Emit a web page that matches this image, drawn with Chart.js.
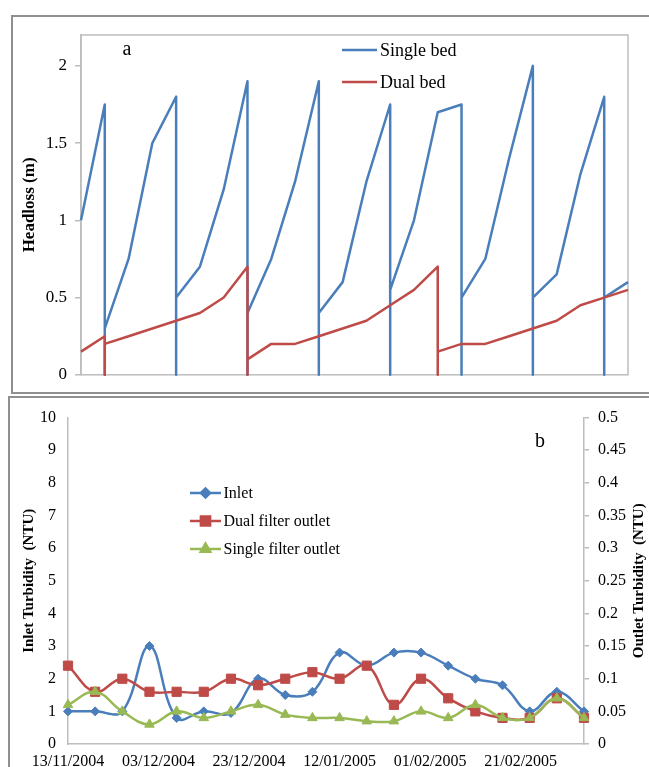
<!DOCTYPE html>
<html>
<head>
<meta charset="utf-8">
<script src="https://cdn.jsdelivr.net/npm/chart.js@4.4.1/dist/chart.umd.min.js"></script>
<style>
html,body{margin:0;padding:0;background:#fff;width:649px;height:767px;overflow:hidden;}
#wrap{position:relative;width:649px;height:767px;overflow:hidden;background:#fff;}
.box{position:absolute;border:2px solid #8f8f8f;box-sizing:border-box;}
canvas{position:absolute;left:0;}
</style>
</head>
<body>
<div id="wrap">
  <div class="box" style="left:11px;top:15px;width:700px;height:379px;"></div>
  <div class="box" style="left:8px;top:396px;width:700px;height:420px;"></div>
  <canvas id="chartA" width="649" height="393" style="top:0;width:649px;height:393px;"></canvas>
  <canvas id="chartB" width="649" height="400" style="top:396px;width:649px;height:400px;"></canvas>
</div>
<script>
// ---------- Data: chart a (headloss) ----------
const headlossSeriesNames = ['Single bed', 'Dual bed'];
const headlossPanelLabel = 'a';
const headlossAxisTitle = 'Headloss (m)';
const headlossTicks = [0, 0.5, 1, 1.5, 2];
const singleBedRun = [0,1,1,1,2,3,4,4,4,5,6,7,7,7,8,9,10,10,10,11,12,13,13,13,14,15,16,16,16,17,18,19,19,19,20,21,22,22,22,23];
const singleBedHeadloss = [1.0,1.75,0,0.3,0.75,1.5,1.8,0,0.5,0.7,1.2,1.9,0,0.4,0.75,1.25,1.9,0,0.4,0.6,1.25,1.75,0,0.55,1.0,1.7,1.75,0,0.5,0.75,1.4,2.0,0,0.5,0.65,1.3,1.8,0,0.5,0.6];
const dualBedRun = [0,1,1,1,2,3,4,5,6,7,7,7,8,9,10,11,12,13,14,15,15,15,16,17,18,19,20,21,22,23];
const dualBedHeadloss = [0.15,0.25,0,0.2,0.25,0.3,0.35,0.4,0.5,0.7,0,0.1,0.2,0.2,0.25,0.3,0.35,0.45,0.55,0.7,0,0.15,0.2,0.2,0.25,0.3,0.35,0.45,0.5,0.55];

// ---------- Data: chart b (turbidity) ----------
const turbiditySeriesNames = ['Inlet', 'Dual filter outlet', 'Single filter outlet'];
const turbidityPanelLabel = 'b';
const inletAxisTitle = 'Inlet Turbidity  (NTU)';
const outletAxisTitle = 'Outlet Turbidity  (NTU)';
const sampleDates = ['13/11/2004','19/11/2004','25/11/2004','01/12/2004','07/12/2004','13/12/2004','19/12/2004','25/12/2004','31/12/2004','06/01/2005','12/01/2005','18/01/2005','24/01/2005','30/01/2005','05/02/2005','11/02/2005','17/02/2005','23/02/2005','01/03/2005','07/03/2005'];
const inletTurbidity = [1.0,1.0,1.0,3.0,0.8,1.0,0.95,2.0,1.5,1.6,2.8,2.4,2.8,2.8,2.4,2.0,1.8,1.0,1.6,1.0];
const dualOutletTurbidity = [0.12,0.08,0.10,0.08,0.08,0.08,0.10,0.09,0.10,0.11,0.10,0.12,0.06,0.10,0.07,0.05,0.04,0.04,0.07,0.04];
const singleOutletTurbidity = [0.06,0.08,0.05,0.03,0.05,0.04,0.05,0.06,0.045,0.04,0.04,0.035,0.035,0.05,0.04,0.06,0.04,0.04,0.07,0.04];
const dateTickLabels = ['13/11/2004','03/12/2004','23/12/2004','12/01/2005','01/02/2005','21/02/2005'];
const inletTicks = [0,1,2,3,4,5,6,7,8,9,10];
const outletTicks = [0,0.05,0.1,0.15,0.2,0.25,0.3,0.35,0.4,0.45,0.5];

// ---------- Styles ----------
const FONT = '"Liberation Serif","Times New Roman",serif';
const BLUE = '#4a7ebb', RED = '#be4b48', GREEN = '#98b954';
const AXIS = '#bdbdbd';

function toDay(s) {
  const [d, m, y] = s.split('/').map(Number);
  const [d0, m0, y0] = sampleDates[0].split('/').map(Number);
  return Math.round((Date.UTC(y, m - 1, d) - Date.UTC(y0, m0 - 1, d0)) / 86400000);
}
function pairs(xs, ys) { return xs.map((x, i) => ({x: x, y: ys[i]})); }
function plain(v) { return String(+Number(v).toFixed(3)); }

// ---------- Chart a ----------
const plotBoxA = {
  id: 'plotBoxA',
  beforeDatasetsDraw(chart) {
    const {ctx, chartArea: a} = chart;
    ctx.save();
    ctx.strokeStyle = AXIS; ctx.lineWidth = 1.5;
    ctx.strokeRect(a.left, a.top, a.right - a.left, a.bottom - a.top);
    ctx.restore();
  },
  afterDraw(chart) {
    const ctx = chart.ctx;
    ctx.save();
    ctx.fillStyle = '#000';
    ctx.textBaseline = 'middle';
    ctx.font = '20px ' + FONT;
    ctx.textAlign = 'center';
    ctx.fillText(headlossPanelLabel, 127, 50);
    ctx.textAlign = 'left';
    ctx.font = '18px ' + FONT;
    const rows = [50, 82];
    chart.data.datasets.forEach((ds, i) => {
      const y = rows[i];
      ctx.strokeStyle = ds.borderColor; ctx.lineWidth = 2.5;
      ctx.beginPath(); ctx.moveTo(342, y); ctx.lineTo(377, y); ctx.stroke();
      ctx.fillStyle = '#000';
      ctx.fillText(ds.label, 380, y + 1);
    });
    ctx.restore();
  }
};

new Chart(document.getElementById('chartA'), {
  type: 'scatter',
  data: {
    datasets: [
      {label: headlossSeriesNames[0], data: pairs(singleBedRun, singleBedHeadloss), showLine: true,
       borderColor: BLUE, backgroundColor: BLUE, borderWidth: 2.5, borderJoinStyle: 'round',
       pointRadius: 0, tension: 0, order: 2, clip: false},
      {label: headlossSeriesNames[1], data: pairs(dualBedRun, dualBedHeadloss), showLine: true,
       borderColor: RED, backgroundColor: RED, borderWidth: 2.5, borderJoinStyle: 'round',
       pointRadius: 0, tension: 0, order: 1, clip: false}
    ]
  },
  options: {
    responsive: false, animation: false, devicePixelRatio: 1,
    layout: {padding: {left: 0, right: 21, top: 35, bottom: 18}},
    plugins: {legend: {display: false}, tooltip: {enabled: false}},
    scales: {
      x: {type: 'linear', min: 0, max: 23, display: false},
      y: {
        type: 'linear', min: 0, max: 2.2,
        afterBuildTicks: s => { s.ticks = headlossTicks.map(v => ({value: v})); },
        afterFit: s => { s.width = 81; },
        ticks: {padding: 8, color: '#000', font: {family: FONT, size: 17}, callback: v => plain(v)},
        grid: {drawOnChartArea: false, drawTicks: true, tickLength: 6, color: AXIS, lineWidth: 1.5},
        border: {display: true, color: AXIS, width: 1.5},
        title: {display: true, text: headlossAxisTitle, color: '#000',
                font: {family: FONT, size: 17, weight: 'bold'}, padding: {top: 19, bottom: 0}}
      }
    }
  },
  plugins: [plotBoxA]
});

// ---------- Chart b ----------
const extrasB = {
  id: 'extrasB',
  afterDraw(chart) {
    const ctx = chart.ctx;
    const H = Chart.helpers;
    ctx.save();
    ctx.fillStyle = '#000';
    ctx.textBaseline = 'middle';
    ctx.font = '20px ' + FONT;
    ctx.textAlign = 'center';
    ctx.fillText(turbidityPanelLabel, 540, 46);
    // right axis title, reading bottom to top
    const a = chart.chartArea;
    ctx.save();
    ctx.translate(639.5, (a.top + a.bottom) / 2);
    ctx.rotate(-Math.PI / 2);
    ctx.font = 'bold 15px ' + FONT;
    ctx.textAlign = 'center';
    ctx.fillText(outletAxisTitle, 0, 0);
    ctx.restore();
    // legend
    const rows = [97, 125, 153];
    ctx.font = '16px ' + FONT;
    ctx.textAlign = 'left';
    chart.data.datasets.forEach((ds, i) => {
      const y = rows[i];
      ctx.strokeStyle = ds.borderColor; ctx.lineWidth = 2.5;
      ctx.beginPath(); ctx.moveTo(190, y); ctx.lineTo(221, y); ctx.stroke();
      ctx.fillStyle = ds.backgroundColor; ctx.strokeStyle = ds.borderColor;
      H.drawPoint(ctx, {pointStyle: ds.pointStyle, radius: ds.pointRadius, rotation: 0, borderWidth: 1}, 205.5, y);
      ctx.fillStyle = '#000';
      ctx.fillText(ds.label, 223.5, y + 1);
    });
    ctx.restore();
  }
};

const dayX = sampleDates.map(toDay);

new Chart(document.getElementById('chartB'), {
  type: 'line',
  data: {
    datasets: [
      {label: turbiditySeriesNames[0], data: pairs(dayX, inletTurbidity), yAxisID: 'y',
       borderColor: BLUE, backgroundColor: BLUE, borderWidth: 2.5, pointStyle: 'rectRot', pointRadius: 4.5,
       pointBorderWidth: 1, tension: 0.4, order: 3, clip: false},
      {label: turbiditySeriesNames[1], data: pairs(dayX, dualOutletTurbidity), yAxisID: 'y2',
       borderColor: RED, backgroundColor: RED, borderWidth: 2.5, pointStyle: 'rect', pointRadius: 6.5,
       pointBorderWidth: 1, tension: 0.4, order: 2, clip: false},
      {label: turbiditySeriesNames[2], data: pairs(dayX, singleOutletTurbidity), yAxisID: 'y2',
       borderColor: GREEN, backgroundColor: GREEN, borderWidth: 2.5, pointStyle: 'triangle', pointRadius: 5.5,
       pointBorderWidth: 1, tension: 0.4, order: 1, clip: false}
    ]
  },
  options: {
    responsive: false, animation: false, devicePixelRatio: 1,
    layout: {padding: {left: 0, right: 0, top: 16, bottom: 0}},
    plugins: {legend: {display: false}, tooltip: {enabled: false}},
    scales: {
      x: {
        type: 'linear', position: 'bottom', min: dayX[0], max: dayX[dayX.length - 1],
        afterBuildTicks: s => { s.ticks = dateTickLabels.map(l => ({value: toDay(l)})); },
        afterFit: s => { s.height = 52; },
        ticks: {callback: (v, i) => dateTickLabels[i], maxRotation: 0, autoSkip: false, padding: 8,
                color: '#000', font: {family: FONT, size: 16}},
        grid: {drawOnChartArea: false, drawTicks: false},
        border: {display: true, color: AXIS, width: 1.5}
      },
      y: {
        type: 'linear', position: 'left', min: 0, max: 10,
        afterBuildTicks: s => { s.ticks = inletTicks.map(v => ({value: v})); },
        afterFit: s => { s.width = 68; },
        ticks: {padding: 12, color: '#000', font: {family: FONT, size: 16}, callback: v => plain(v)},
        grid: {drawOnChartArea: false, drawTicks: false},
        border: {display: true, color: AXIS, width: 1.5},
        title: {display: true, text: inletAxisTitle, color: '#000',
                font: {family: FONT, size: 15, weight: 'bold'}, padding: {top: 20, bottom: 0}}
      },
      y2: {
        type: 'linear', position: 'right', min: 0, max: 0.5,
        afterBuildTicks: s => { s.ticks = outletTicks.map(v => ({value: v})); },
        afterFit: s => { s.width = 65; },
        ticks: {padding: 9, color: '#000', font: {family: FONT, size: 16}, callback: v => plain(v)},
        grid: {drawOnChartArea: false, drawTicks: true, tickLength: 5, color: AXIS, lineWidth: 1.5},
        border: {display: true, color: AXIS, width: 1.5}
      }
    }
  },
  plugins: [extrasB]
});
</script>
</body>
</html>
